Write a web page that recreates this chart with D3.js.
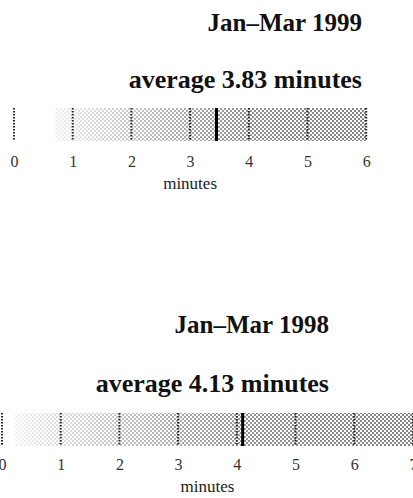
<!DOCTYPE html>
<html>
<head>
<meta charset="utf-8">
<script src="https://cdn.jsdelivr.net/npm/d3@7"></script>
<style>
  html, body { margin: 0; padding: 0; background: #fff; }
  svg { display: block; }
</style>
</head>
<body>
<svg id="chart" width="413" height="498"></svg>
<script>
// ---- data ----
const periods = ["Jan\u2013Mar 1999", "Jan\u2013Mar 1998"];
const averages = [3.83, 4.13];
const markerValues = [3.45, 4.1];     // position of the heavy marker line (minutes)
const axisMax = [6, 7];               // last tick of each axis
const shadeStart = [0.7, 0.22];       // where the shaded band begins (minutes)
const axisTitle = "minutes";

// ---- layout (not data) ----
const layout = [
  { x0: 14, unit: 58.7, titleY: 31, avgY: 88, textRight: 362, barTop: 108, barBottom: 141, tickY: 167, labelY: 189 },
  { x0: 2,  unit: 58.7, titleY: 333, avgY: 392, textRight: 329, barTop: 413, barBottom: 446, tickY: 470, labelY: 492 }
];

const svg = d3.select("#chart");
const defs = svg.append("defs");

// halftone dot pattern
const pat = defs.append("pattern")
  .attr("id", "dots").attr("patternUnits", "userSpaceOnUse")
  .attr("width", 4).attr("height", 4);
pat.append("rect").attr("x", 0).attr("y", 0).attr("width", 2).attr("height", 2).attr("fill", "#777");
pat.append("rect").attr("x", 2).attr("y", 2).attr("width", 2).attr("height", 2).attr("fill", "#777");

const serif = "'Liberation Serif', 'Times New Roman', serif";

periods.forEach((p, i) => {
  const L = layout[i];
  const x = d3.scaleLinear().domain([0, axisMax[i]]).range([L.x0, L.x0 + L.unit * axisMax[i]]);
  const g = svg.append("g");

  // gradient mask for the shaded band
  const gid = "grad" + i, mid = "mask" + i;
  const grad = defs.append("linearGradient").attr("id", gid)
    .attr("gradientUnits", "userSpaceOnUse")
    .attr("x1", x(shadeStart[i])).attr("x2", x(axisMax[i])).attr("y1", 0).attr("y2", 0);
  [[0, 0.1], [0.2, 0.35], [0.4, 0.6], [0.6, 0.8], [1, 0.9]].forEach(s =>
    grad.append("stop").attr("offset", s[0]).attr("stop-color", "#fff").attr("stop-opacity", s[1]));
  defs.append("mask").attr("id", mid).attr("maskUnits", "userSpaceOnUse")
    .attr("x", 0).attr("y", 0).attr("width", 413).attr("height", 498)
    .append("rect")
      .attr("x", x(shadeStart[i])).attr("y", L.barTop)
      .attr("width", x(axisMax[i]) - x(shadeStart[i])).attr("height", L.barBottom - L.barTop)
      .attr("fill", "url(#" + gid + ")");

  g.append("rect")
    .attr("x", x(shadeStart[i])).attr("y", L.barTop)
    .attr("width", x(axisMax[i]) - x(shadeStart[i])).attr("height", L.barBottom - L.barTop)
    .attr("fill", "url(#dots)").attr("mask", "url(#" + mid + ")");

  // dotted tick lines
  const ticks = d3.range(0, axisMax[i] + 1);
  g.selectAll("line.tick").data(ticks).enter().append("line")
    .attr("x1", d => x(d)).attr("x2", d => x(d))
    .attr("y1", L.barTop).attr("y2", L.barBottom)
    .attr("stroke", "#222").attr("stroke-width", 2)
    .attr("stroke-dasharray", "1.5,1.5");

  // heavy marker
  g.append("line")
    .attr("x1", x(markerValues[i])).attr("x2", x(markerValues[i]))
    .attr("y1", L.barTop).attr("y2", L.barBottom)
    .attr("stroke", "#000").attr("stroke-width", 3);

  // axis labels via d3 axis
  const axis = d3.axisBottom(x).tickValues(ticks).tickSize(0).tickFormat(d3.format("d"));
  const ag = g.append("g").attr("transform", "translate(0," + (L.tickY - 12) + ")").call(axis);
  ag.select(".domain").remove();
  ag.selectAll("text")
    .attr("dy", 0).attr("y", 12)
    .attr("font-family", serif).attr("font-size", 16).attr("fill", "#333");

  g.append("text")
    .attr("x", x(axisMax[i] / 2)).attr("y", L.labelY)
    .attr("text-anchor", "middle")
    .attr("font-family", serif).attr("font-size", 17).attr("fill", "#222")
    .text(axisTitle);

  // titles
  g.append("text")
    .attr("x", L.textRight).attr("y", L.titleY)
    .attr("text-anchor", "end")
    .attr("font-family", serif).attr("font-weight", "bold").attr("font-size", 25)
    .attr("fill", "#111")
    .text(p);

  g.append("text")
    .attr("x", L.textRight).attr("y", L.avgY)
    .attr("text-anchor", "end")
    .attr("font-family", serif).attr("font-weight", "bold").attr("font-size", 26)
    .attr("fill", "#111")
    .text("average " + d3.format(".2f")(averages[i]) + " minutes");
});
</script>
</body>
</html>
